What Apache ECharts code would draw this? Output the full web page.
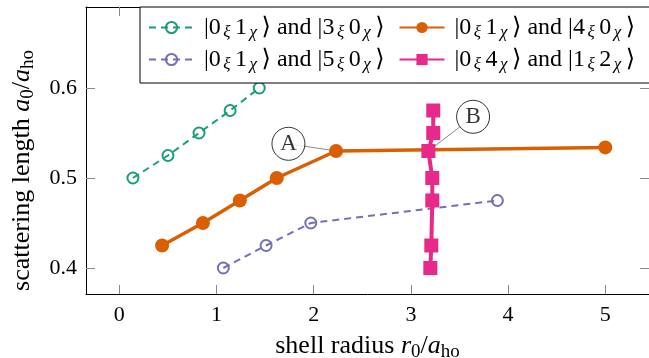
<!DOCTYPE html>
<html>
<head>
<meta charset="utf-8">
<script src="https://cdn.jsdelivr.net/npm/echarts@6/dist/echarts.min.js"></script>
<style>
  html, body { margin: 0; padding: 0; background: #fff; }
  #chart { width: 649px; height: 358px; }
</style>
</head>
<body>
<div id="chart"></div>
<script>
// data
var greenX = [0.14, 0.50, 0.82, 1.14, 1.44];
var greenY = [0.500, 0.525, 0.550, 0.575, 0.600];
var orangeX = [0.44, 0.86, 1.24, 1.62, 2.23, 5.00];
var orangeY = [0.425, 0.450, 0.475, 0.500, 0.530, 0.534];
var purpleX = [1.07, 1.51, 1.97, 3.89];
var purpleY = [0.400, 0.425, 0.450, 0.475];
var pinkX = [3.20, 3.21, 3.22, 3.22, 3.18, 3.23, 3.23];
var pinkY = [0.400, 0.425, 0.475, 0.500, 0.530, 0.550, 0.575];

var xTicks = [0, 1, 2, 3, 4, 5];
var yTicks = [0.4, 0.5, 0.6];

// annotation circles and the points they mark
var annLabels = ['A', 'B'];
var annAt = [[1.74, 0.538], [3.64, 0.568]];
var annTarget = [[2.23, 0.530], [3.18, 0.530]];

var FONT = "'Liberation Serif', 'DejaVu Serif', serif";
var cGreen = '#1b9e77', cOrange = '#d95f02', cPurple = '#7570b3', cPink = '#e7298a';

function zip(xs, ys) {
    return xs.map(function (x, i) { return [x, ys[i]]; });
}
function ket(a, b, c, d) {
    return '{f||' + a + '}{s|ξ}{m|' + b + '}{s|χ}{m|⟩ and |' + c + '}{s|ξ}{m|' + d + '}{s|χ}{e|⟩}';
}

var names = [
    '|0ξ1χ⟩ and |3ξ0χ⟩',
    '|0ξ1χ⟩ and |4ξ0χ⟩',
    '|0ξ1χ⟩ and |5ξ0χ⟩',
    '|0ξ4χ⟩ and |1ξ2χ⟩'
];
var legendRich = {};
legendRich[names[0]] = ket(0, 1, 3, 0);
legendRich[names[1]] = ket(0, 1, 4, 0);
legendRich[names[2]] = ket(0, 1, 5, 0);
legendRich[names[3]] = ket(0, 4, 1, 2);

var legendTextRich = {
    m: {fontFamily: FONT, fontSize: 24, color: '#000', lineHeight: 20},
    f: {fontFamily: FONT, fontSize: 24, color: '#000', lineHeight: 20, padding: [0, 0, 0, 5]},
    e: {fontFamily: FONT, fontSize: 24, color: '#000', lineHeight: 20, padding: [0, 9, 0, 0]},
    // subscripts: lowered by padding, small lineHeight so rows stay tight
    s: {fontFamily: FONT, fontSize: 17, fontStyle: 'italic', color: '#000',
        lineHeight: 10, padding: [10, 4.5, 0, 2.5]}
};
var titleRich = {
    i: {fontFamily: FONT, fontSize: 26, fontStyle: 'italic', color: '#000'},
    b: {fontFamily: FONT, fontSize: 19, color: '#000', lineHeight: 12, padding: [12, 0, 0, 0]},
    g: {fontFamily: FONT, fontSize: 26, width: 40}
};

var chart = echarts.init(document.getElementById('chart'));

var axisCommon = {
    type: 'value',
    splitLine: {show: false},
    axisLine: {onZero: false, lineStyle: {color: '#000', width: 1}},
    axisTick: {inside: true, length: 9, lineStyle: {color: '#888', width: 1}}
};

var series = [];
annAt.forEach(function (p, i) {
    series.push({
        type: 'line',
        data: [p, annTarget[i]],
        symbol: 'none',
        silent: true,
        lineStyle: {color: '#888', width: 1},
        z: 1
    });
});
series.push({
    name: names[0],
    type: 'line',
    data: zip(greenX, greenY),
    symbol: 'circle',
    symbolSize: 11,
    lineStyle: {color: cGreen, width: 2, type: [7, 5]},
    itemStyle: {color: 'rgba(255,255,255,0)', borderColor: cGreen, borderWidth: 2},
    z: 2
});
series.push({
    name: names[1],
    type: 'line',
    data: zip(orangeX, orangeY),
    symbol: 'circle',
    symbolSize: 14,
    lineStyle: {color: cOrange, width: 3.5},
    itemStyle: {color: cOrange},
    z: 3
});
series.push({
    name: names[2],
    type: 'line',
    data: zip(purpleX, purpleY),
    symbol: 'circle',
    symbolSize: 11,
    lineStyle: {color: cPurple, width: 2, type: [7, 5]},
    itemStyle: {color: 'rgba(255,255,255,0)', borderColor: cPurple, borderWidth: 2},
    z: 4
});
series.push({
    name: names[3],
    type: 'line',
    data: zip(pinkX, pinkY),
    symbol: 'rect',
    symbolSize: 14,
    lineStyle: {color: cPink, width: 4},
    itemStyle: {color: cPink},
    z: 5
});
series.push({
    type: 'scatter',
    data: annAt.map(function (p, i) { return {value: p, name: annLabels[i]}; }),
    symbol: 'circle',
    symbolSize: 33,
    silent: true,
    itemStyle: {color: '#fff', borderColor: '#000', borderWidth: 1},
    label: {
        show: true,
        position: 'inside',
        formatter: '{b}',
        fontFamily: FONT,
        fontSize: 23,
        color: '#000'
    },
    z: 6
});

var option = {
    animation: false,
    backgroundColor: '#fff',
    grid: {left: 86, right: 0, top: 7, bottom: 64, outerBoundsMode: 'none', containLabel: false},
    legend: {
        data: names,
        left: 140,
        top: 7,
        width: 509,
        padding: [7, 11, 10, 8],
        itemGap: 5,
        itemWidth: 45,
        itemHeight: 14,
        backgroundColor: '#fff',
        borderColor: '#000',
        borderWidth: 1,
        borderRadius: 0,
        z: 10,
        selectedMode: false,
        formatter: function (n) { return legendRich[n]; },
        textStyle: {
            fontFamily: FONT,
            fontSize: 24,
            color: '#000',
            lineHeight: 20,
            rich: legendTextRich
        }
    },
    xAxis: [
        Object.assign({}, axisCommon, {
            min: -0.343,
            max: 5.45,
            position: 'bottom',
            axisTick: Object.assign({}, axisCommon.axisTick, {customValues: xTicks}),
            axisLabel: {
                customValues: xTicks,
                margin: 10,
                fontFamily: FONT,
                fontSize: 22,
                color: '#000'
            },
            name: 'shell radius {i|r}{b|0}/{i|a}{b|ho}',
            nameLocation: 'middle',
            nameGap: 30,
            nameTextStyle: {
                fontFamily: FONT,
                fontSize: 26,
                color: '#000',
                lineHeight: 26,
                rich: titleRich
            }
        }),
        Object.assign({}, axisCommon, {
            min: -0.343,
            max: 5.45,
            position: 'top',
            axisTick: Object.assign({}, axisCommon.axisTick, {customValues: xTicks}),
            axisLabel: {show: false}
        })
    ],
    yAxis: [
        Object.assign({}, axisCommon, {
            min: 0.3711,
            max: 0.69,
            position: 'left',
            axisTick: Object.assign({}, axisCommon.axisTick, {customValues: yTicks}),
            axisLabel: {
                customValues: yTicks,
                margin: 9,
                fontFamily: FONT,
                fontSize: 22,
                color: '#000',
                formatter: function (v) { return v.toFixed(1); }
            },
            name: 'scattering length {i|a}{b|0}/{i|a}{b|ho}{g| }',
            nameLocation: 'middle',
            nameRotate: 90,
            nameGap: 51,
            nameTextStyle: {
                fontFamily: FONT,
                fontSize: 26,
                color: '#000',
                lineHeight: 26,
                rich: titleRich
            }
        }),
        Object.assign({}, axisCommon, {
            min: 0.3711,
            max: 0.69,
            position: 'right',
            axisTick: Object.assign({}, axisCommon.axisTick, {customValues: yTicks}),
            axisLabel: {show: false}
        })
    ],
    series: series
};

chart.setOption(option);
</script>
</body>
</html>
